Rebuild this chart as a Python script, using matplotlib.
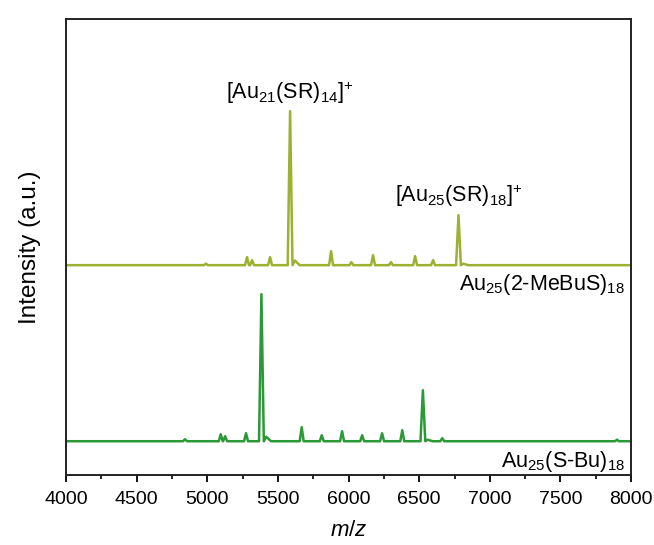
import numpy as np
import matplotlib
matplotlib.use('Agg')
import matplotlib.pyplot as plt
from matplotlib.ticker import MultipleLocator

plt.rcParams['font.family'] = ['Liberation Sans', 'DejaVu Sans']
plt.rcParams['mathtext.fontset'] = 'custom'
plt.rcParams['mathtext.rm'] = 'Liberation Sans'
plt.rcParams['mathtext.it'] = 'Liberation Sans:italic'

## DATA ##
# peak centres (m/z) and heights (a.u.)
peaks_mebus = [4990, 5281, 5317, 5444, 5586, 5876, 6020, 6173, 6300, 6471, 6598, 6778]
heights_mebus = [1.5, 8, 5, 8, 154, 14, 3, 10, 3, 9, 5, 50]
peaks_sbu = [4842, 5095, 5126, 5274, 5383, 5668, 5810, 5954, 6096, 6237, 6380, 6526, 6663, 7900]
heights_sbu = [2, 7, 5, 8, 147, 14, 6, 10, 6, 8, 11, 51, 3, 1.5]
mz_min, mz_max = 4000, 8000
xticks = [4000, 4500, 5000, 5500, 6000, 6500, 7000, 7500, 8000]

def trace(centres, heights):
    # spike-shaped profile: baseline, up to top, back to baseline
    xs, ys = [mz_min], [0]
    for c, h in zip(centres, heights):
        w = 17 if h > 40 else 14
        xs += [c - w, c, c + w]
        ys += [0, h, 0]
        if h > 40:
            xs += [c + 2 * w, c + 4 * w]
            ys += [h * 0.03, 0]
    xs.append(mz_max)
    ys.append(0)
    return np.array(xs), np.array(ys)

## PLOT ##
fig = plt.figure(figsize=(6.54, 5.45), dpi=100)
ax = fig.add_axes([0.101, 0.128, 0.864, 0.837])

x1, y1 = trace(peaks_mebus, heights_mebus)
x2, y2 = trace(peaks_sbu, heights_sbu)
ax.plot(x1, y1 + 210, color='#9cb032', lw=1.8)
ax.plot(x2, y2 + 34, color='#2b9a36', lw=1.8)

ax.set_xlim(mz_min, mz_max)
ax.set_ylim(0, 456)
ax.set_xticks(xticks)
ax.xaxis.set_minor_locator(MultipleLocator(250))
ax.set_yticks([])
ax.tick_params(axis='x', direction='out', length=5, width=1.3, labelsize=14, pad=6)
ax.tick_params(axis='x', which='minor', direction='out', length=3, width=1.2)
for s in ax.spines.values():
    s.set_linewidth(1.4)
    s.set_color('#222222')

ax.set_xlabel('$m/z$', fontsize=16, labelpad=9)
ax.set_ylabel('Intensity (a.u.)', fontsize=17.5, labelpad=18)

ax.text(5586, 382, r'[Au$_{21}$(SR)$_{14}$]$^{+}$', ha='center', va='center', fontsize=15.5)
ax.text(6778, 279, r'[Au$_{25}$(SR)$_{18}$]$^{+}$', ha='center', va='center', fontsize=15.5)
ax.text(7960, 191, r'Au$_{25}$(2-MeBuS)$_{18}$', ha='right', va='center', fontsize=15.5)
ax.text(7960, 14, r'Au$_{25}$(S-Bu)$_{18}$', ha='right', va='center', fontsize=15.5)

plt.savefig('out.png', dpi=100)
plt.close()
